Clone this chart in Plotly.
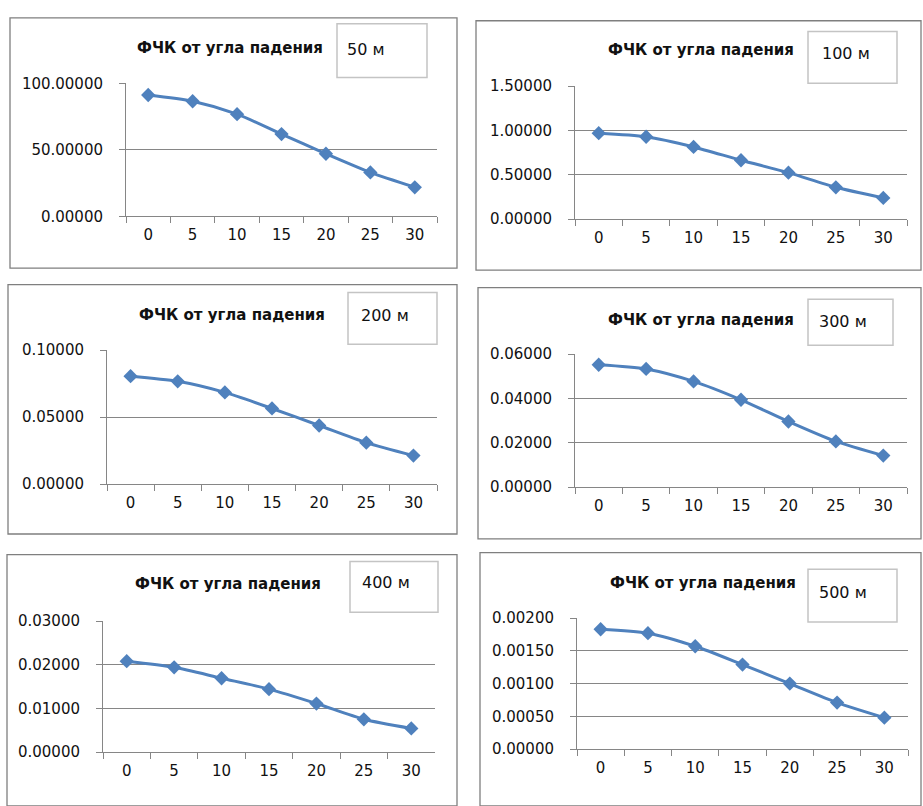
import plotly.graph_objects as go

# Angle of incidence categories (degrees)
angles = ["0", "5", "10", "15", "20", "25", "30"]

# ФЧК values per depth
fck_50 = [91.2, 86.5, 76.8, 61.8, 47.0, 33.0, 21.8]
fck_100 = [0.970, 0.930, 0.815, 0.665, 0.525, 0.360, 0.240]
fck_200 = [0.0806, 0.0768, 0.0685, 0.0565, 0.0438, 0.0310, 0.0213]
fck_300 = [0.0552, 0.0533, 0.0477, 0.0394, 0.0296, 0.0206, 0.0142]
fck_400 = [0.0208, 0.0194, 0.0169, 0.0144, 0.0111, 0.0075, 0.0054]
fck_500 = [0.00183, 0.00177, 0.00157, 0.00129, 0.00100, 0.00071, 0.00048]

depth_labels = ["50 м", "100 м", "200 м", "300 м", "400 м", "500 м"]
y_max = [100, 1.5, 0.1, 0.06, 0.03, 0.002]
y_step = [50, 0.5, 0.05, 0.02, 0.01, 0.0005]
chart_title = "ФЧК от угла падения"

series = [fck_50, fck_100, fck_200, fck_300, fck_400, fck_500]

W, H = 923, 806

# Pixel layout of each chart object: outer frame, plot area, title, depth box
panels = [
    dict(frame=(10, 9, 457, 265), plot=(126, 76, 437, 212), title=(230, 40),
         box=(337, 15, 427, 70), label=(345, 41)),
    dict(frame=(476, 12, 921, 267), plot=(575, 79, 907, 215), title=(701, 42),
         box=(808, 23, 897, 76), label=(820, 46)),
    dict(frame=(8, 282, 457, 537), plot=(107, 349, 437, 486), title=(232, 313),
         box=(348, 290, 437, 343), label=(359, 314)),
    dict(frame=(478, 285, 921, 542), plot=(575, 353, 907, 489), title=(701, 318),
         box=(808, 297, 893, 344), label=(817, 320)),
    dict(frame=(7, 558, 457, 815), plot=(103, 626, 435, 760), title=(228, 588),
         box=(350, 565, 438, 617), label=(360, 587)),
    dict(frame=(480, 556, 921, 815), plot=(577, 623, 908, 757), title=(703, 587),
         box=(808, 573, 897, 627), label=(817, 597)),
]

LINE_BLUE = "#4F81BD"
AXIS_GREY = "#868686"
FRAME_GREY = "#7f7f7f"
BOX_GREY = "#c4c4c4"
TEXT = "#111111"
FONT = "DejaVu Sans"


def px(x):
    return x / W


def py(y):
    return 1 - y / H


fig = go.Figure()
shapes = []
annotations = []
layout_axes = {}

for i, (vals, p) in enumerate(zip(series, panels)):
    n = "" if i == 0 else str(i + 1)
    xa, ya = "x" + n, "y" + n
    fig.add_trace(go.Scatter(
        x=angles, y=vals, xaxis=xa, yaxis=ya, mode="lines+markers",
        line=dict(color=LINE_BLUE, width=3, shape="spline", smoothing=0.7),
        marker=dict(symbol="diamond", size=11, color=LINE_BLUE),
        showlegend=False, hoverinfo="x+y",
    ))
    x0, y0, x1, y1 = p["plot"]
    layout_axes["xaxis" + n] = dict(
        domain=[px(x0), px(x1)], anchor=ya, type="category",
        range=[-0.5, len(angles) - 0.5], tickson="boundaries",
        ticks="outside", ticklen=6, tickcolor=AXIS_GREY, tickwidth=1,
        showline=True, linecolor=AXIS_GREY, linewidth=1,
        showgrid=False, zeroline=False, fixedrange=True,
        tickfont=dict(family=FONT, size=15, color=TEXT),
        ticklabelstandoff=5,
    )
    layout_axes["yaxis" + n] = dict(
        domain=[py(y1), py(y0)], anchor=xa,
        range=[0, y_max[i]], dtick=y_step[i], tick0=0, tickformat=".5f",
        ticks="outside", ticklen=6, tickcolor=AXIS_GREY, tickwidth=1,
        showline=True, linecolor=AXIS_GREY, linewidth=1,
        showgrid=True, gridcolor=AXIS_GREY, gridwidth=1,
        zeroline=False, fixedrange=True,
        tickfont=dict(family=FONT, size=15, color=TEXT),
        ticklabelstandoff=13,
    )

    fx0, fy0, fx1, fy1 = p["frame"]
    shapes.append(dict(type="rect", xref="paper", yref="paper",
                       x0=px(fx0), x1=px(fx1), y0=py(fy1), y1=py(fy0),
                       line=dict(color=FRAME_GREY, width=1.3), layer="below"))
    bx0, by0, bx1, by1 = p["box"]
    shapes.append(dict(type="rect", xref="paper", yref="paper",
                       x0=px(bx0), x1=px(bx1), y0=py(by1), y1=py(by0),
                       line=dict(color=BOX_GREY, width=1.5),
                       fillcolor="rgba(255,255,255,0)", layer="above"))

    tx, ty = p["title"]
    annotations.append(dict(text="<b>" + chart_title + "</b>", xref="paper", yref="paper",
                            x=px(tx), y=py(ty), xanchor="center", yanchor="middle",
                            showarrow=False,
                            font=dict(family=FONT, size=15, color=TEXT)))
    lx, ly = p["label"]
    annotations.append(dict(text=depth_labels[i], xref="paper", yref="paper",
                            x=px(lx), y=py(ly), xanchor="left", yanchor="middle",
                            showarrow=False,
                            font=dict(family=FONT, size=16, color=TEXT)))

fig.update_layout(
    width=W, height=H,
    margin=dict(l=0, r=0, t=0, b=0),
    paper_bgcolor="white", plot_bgcolor="white",
    shapes=shapes, annotations=annotations,
    **layout_axes,
)

fig.write_html("out.html")
